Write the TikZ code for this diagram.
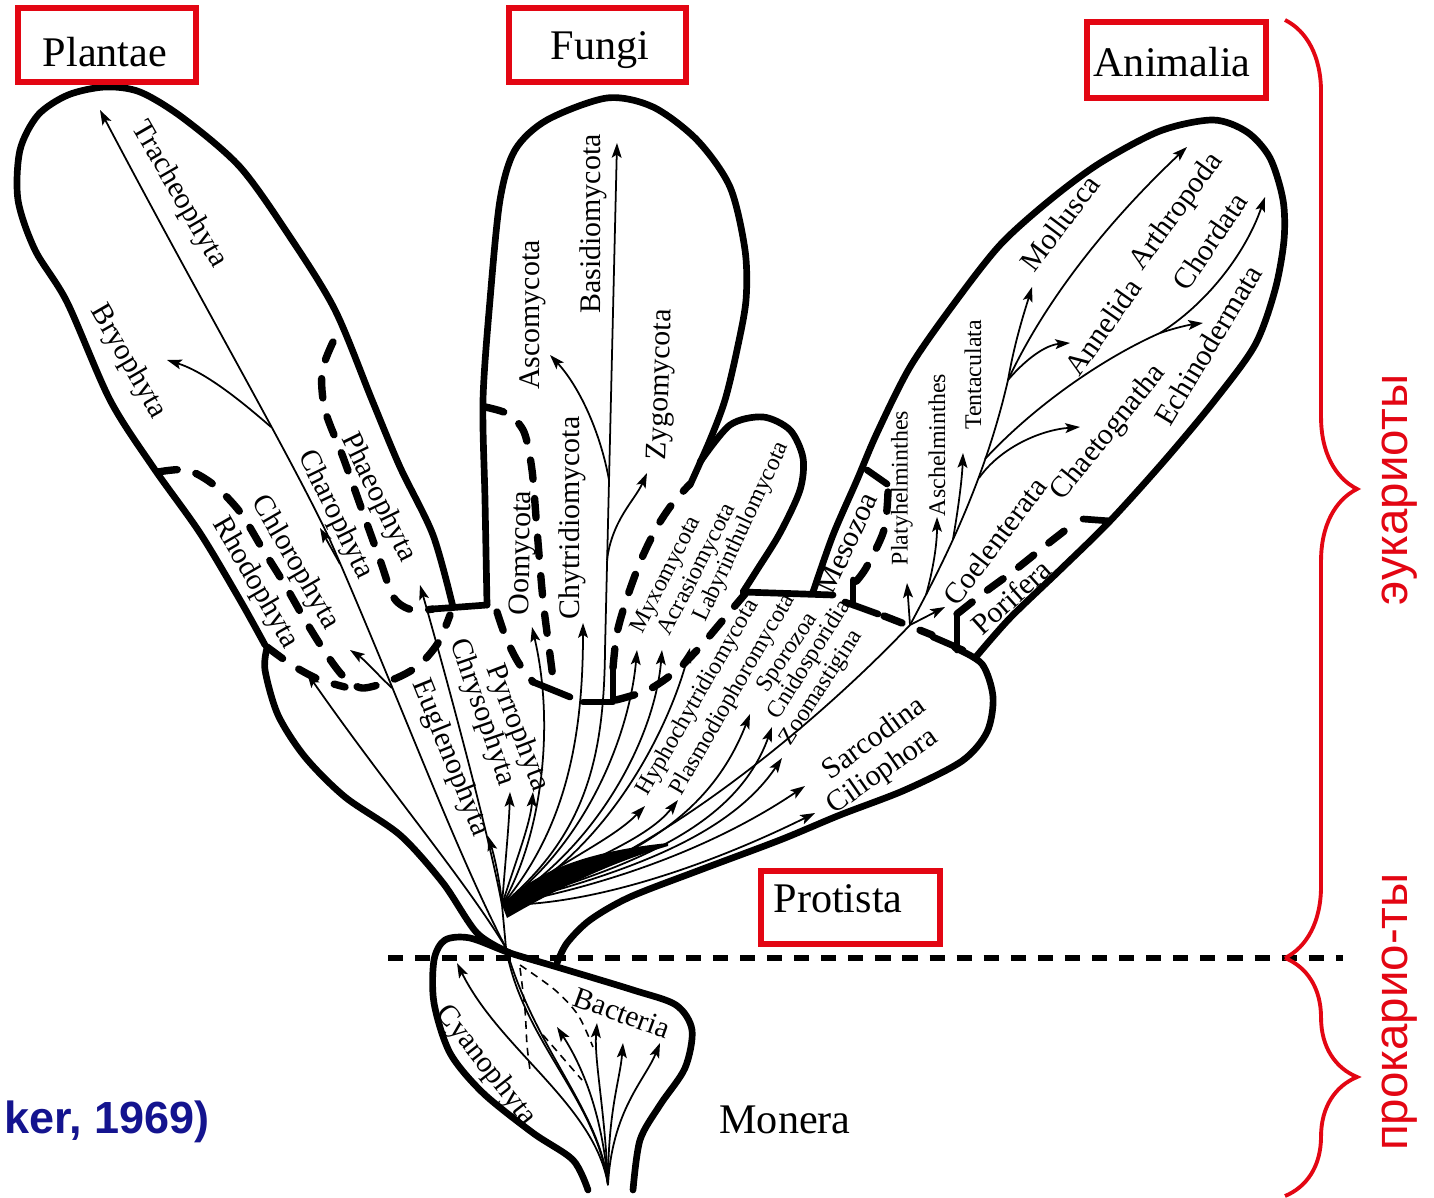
\documentclass[tikz,border=0pt]{standalone}
\usepackage{fontspec}
\setmainfont{Liberation Serif}
\newfontfamily\sansfam{Liberation Sans}
\usetikzlibrary{arrows.meta,decorations.pathreplacing}
\definecolor{kred}{HTML}{E30613}
\definecolor{kblue}{HTML}{14148F}

\begin{document}
\begin{tikzpicture}[x=0.01cm, y=-0.01cm,
    wall/.style={line width=1.9pt, line cap=round, line join=round},
    bnd/.style={line width=2.1pt, line cap=round, dash pattern=on 5.5pt off 5.5pt},
    twig/.style={line width=0.5pt},
    tdash/.style={line width=0.45pt, dash pattern=on 2.2pt off 1.6pt},
    arr/.style={twig, -{Stealth[length=4.2pt, width=2.8pt, inset=0.9pt]}},
    hdash/.style={line width=1.5pt, dash pattern=on 4.3pt off 3.4pt},
    kbox/.style={draw=kred, line width=1.6pt},
    king/.style={font=\fontsize{12}{14}\selectfont, inner sep=0pt},
    lab/.style={font=\fontsize{8.5}{10}\selectfont, inner sep=0pt},
    slab/.style={font=\fontsize{6.8}{8}\selectfont, inner sep=0pt},
    rus/.style={font=\sansfam\fontsize{13.5}{16}\selectfont, text=kred, inner sep=0pt},
    rbrace/.style={draw=kred, line width=1.1pt, decorate, decoration={brace, amplitude=0.72cm}}
  ]
  \useasboundingbox (0,0) rectangle (1434,1198);
  \fill[white] (0,0) rectangle (1434,1198);

  % branch points
  \coordinate (mroot) at (608,1185);
  \coordinate (cross) at (506,948);
  \coordinate (fan) at (502,905);
  \coordinate (an1) at (910,625);
  \coordinate (an2) at (1008,380);
  \coordinate (an3) at (1160,333);

  % outlines
  \draw[wall] plot[smooth] coordinates {(510,953) (477,933) (443,883) (400,835) (345,797) (305,757) (278,715) (265,670) (267,648)};
  \draw[wall] plot[smooth] coordinates {(265,645) (240,600) (200,533) (153,467) (110,400) (67,302) (35,250) (18,200) (20,150) (38,115) (68,95) (105,87) (140,92) (183,118) (240,167) (290,237) (335,310) (372,400) (400,467) (433,535) (453,607)};
  \draw[wall] (433,609) -- (487,605);
  \draw[wall] plot[smooth] coordinates {(487,605) (485,500) (483,400) (490,300) (500,200) (515,150) (547,120) (607,98) (653,107) (697,140) (730,187) (745,250) (746,300) (737,350) (725,400) (710,440) (690,485)};
  \draw[wall] plot[smooth] coordinates {(700,462) (730,425) (763,417) (790,430) (803,458) (800,490) (780,533) (757,570) (743,592)} -- (833,595);
  \draw[wall] plot[smooth] coordinates {(813,592) (833,535) (857,480) (877,433) (910,367) (953,305) (1000,245) (1050,200) (1100,163) (1160,131) (1213,120) (1247,132) (1270,158) (1283,200) (1284,240) (1275,290) (1255,345) (1215,400) (1165,460) (1110,521) (1060,570) (1010,618) (975,658)};
  \draw[wall] plot[smooth] coordinates {(955,648) (982,664) (993,697) (987,732) (962,761) (905,790) (840,815) (780,840) (700,870) (630,897) (590,920) (567,943) (557,963)};
  \draw[wall] plot[smooth] coordinates {(588,1190) (573,1160) (533,1133) (483,1093) (450,1053) (434,1003) (434,960) (445,940) (470,938) (510,953) (557,967) (633,990) (676,1005) (692,1030) (685,1068) (660,1105) (640,1140) (633,1190)};

  % dashed borders
  \draw[bnd] plot[smooth] coordinates {(333,342) (322,372) (325,410) (343,457) (362,510) (380,560) (394,598) (412,610) (433,609)};
  \draw[bnd] plot[smooth] coordinates {(158,472) (187,470) (214,485) (240,512) (262,548) (285,585) (305,620) (325,652) (343,676) (362,688) (392,680) (418,666) (438,643) (450,615)};
  \draw[bnd] plot[smooth] coordinates {(267,647) (292,665) (318,679) (345,687)};
  \draw[bnd] plot[smooth] coordinates {(485,407) (508,414) (524,432) (532,470) (537,530) (543,600) (550,655) (553,678)};
  \draw[bnd] plot[smooth] coordinates {(497,612) (506,638) (518,662) (533,682)};
  \draw[wall] (533,682) -- (570,697);
  \draw[wall] (583,702) -- (613,702) -- (613,668);
  \draw[bnd] plot[smooth] coordinates {(613,668) (617,633) (627,598) (641,560) (657,527) (673,503) (690,484)};
  \draw[bnd] plot[smooth] coordinates {(616,700) (648,690) (676,671) (700,647) (723,620) (745,594)};
  \draw[wall] (867,470) -- (887,484);
  \draw[bnd] plot[smooth] coordinates {(888,492) (884,530) (866,568) (853,585)};
  \draw[wall] (853,580) -- (853,605);
  \draw[wall] (845,602) -- (878,614);
  \draw[bnd] plot[smooth] coordinates {(884,616) (907,625) (932,635)};
  \draw[wall] (933,637) -- (963,650);
  \draw[wall] (957,614) -- (957,650);
  \draw[bnd] plot[smooth] coordinates {(957,614) (985,592) (1015,570) (1045,546) (1072,525)};
  \draw[wall] (1083,519) -- (1110,521);

  % prokaryote / eukaryote line
  \draw[hdash] (388,958) -- (1343,958);

  % Monera
  \draw[twig] (mroot) .. controls (600,1110) and (535,1050) .. (cross);
  \draw[twig] (mroot) .. controls (597,1100) and (522,1040) .. (cross);
  \draw[twig] (cross) -- (fan);
  \draw[arr] (mroot) .. controls (595,1105) and (500,1050) .. (457,963);
  \draw[arr] (mroot) .. controls (603,1120) and (585,1070) .. (557,1027);
  \draw[arr] (mroot) .. controls (605,1110) and (594,1060) .. (597,1023);
  \draw[arr] (mroot) .. controls (608,1110) and (620,1080) .. (623,1043);
  \draw[arr] (mroot) .. controls (612,1110) and (645,1080) .. (660,1043);
  \draw[tdash] plot[smooth] coordinates {(520,965) (555,990) (578,1015) (593,1047)};
  \draw[tdash] plot[smooth] coordinates {(520,968) (525,1010) (527,1045) (530,1070)};
  \draw[tdash] (543,1035) -- (582,1080);

  % Plantae
  \draw[arr] (cross) .. controls (455,850) and (400,700) .. (330,540) .. controls (290,455) and (200,300) .. (100,110);
  \draw[arr] (271,427) .. controls (240,400) and (205,372) .. (167,360);
  \draw[arr] (340,564) -- (320,528);
  \draw[arr] (392,688) .. controls (378,675) and (365,660) .. (350,650);
  \draw[arr] (cross) .. controls (465,880) and (385,785) .. (307,673);
  \draw[arr] (fan) .. controls (490,840) and (450,690) .. (420,585);
  \draw[arr] (fan) .. controls (500,880) and (494,855) .. (488,836);
  \draw[arr] (fan) .. controls (505,865) and (509,825) .. (510,792);
  \draw[arr] (fan) .. controls (516,860) and (530,825) .. (533,792);

  % Fungi
  \draw[arr] (fan) .. controls (540,840) and (556,730) .. (532,627);
  \draw[arr] (fan) .. controls (565,830) and (583,740) .. (583,623);
  \draw[arr] (fan) .. controls (585,835) and (604,760) .. (605,650) -- (617,143);
  \draw[arr] (609,480) .. controls (600,430) and (578,385) .. (550,355);
  \draw[arr] (607,560) .. controls (612,520) and (635,500) .. (647,473);
  \draw[arr] (fan) .. controls (590,840) and (630,730) .. (637,650);
  \draw[arr] (fan) .. controls (600,845) and (655,735) .. (662,650);
  \draw[arr] (fan) .. controls (610,850) and (670,725) .. (690,648);

  % Protista
  \fill (fan) .. controls (540,866) and (600,850) .. (668,843) -- (668,846) .. controls (600,866) and (545,896) .. (507,918) -- cycle;
  \draw[arr] (fan) .. controls (560,862) and (612,840) .. (645,806);
  \draw[arr] (fan) .. controls (575,865) and (645,842) .. (678,800);
  \draw[arr] (fan) .. controls (610,865) and (705,830) .. (750,714);
  \draw[arr] (fan) .. controls (625,868) and (735,830) .. (772,727);
  \draw[arr] (fan) .. controls (630,872) and (730,835) .. (782,758);
  \draw[arr] (fan) .. controls (645,878) and (740,830) .. (805,786);
  \draw[arr] (fan) .. controls (600,905) and (720,860) .. (815,813);

  % Animalia
  \draw[twig] (fan) .. controls (650,865) and (820,720) .. (an1);
  \draw[arr] (an1) -- (907,583);
  \draw[arr] (an1) -- (945,607);
  \draw[twig] (an1) .. controls (945,560) and (985,480) .. (an2);
  \draw[arr] (926,595) .. controls (933,570) and (937,545) .. (937,517);
  \draw[arr] (953,539) .. controls (958,510) and (962,480) .. (963,453);
  \draw[arr] (979,478) .. controls (1000,448) and (1040,430) .. (1080,427);
  \draw[twig] (985,459) .. controls (1040,400) and (1110,355) .. (an3);
  \draw[arr] (an3) .. controls (1175,328) and (1188,325) .. (1203,323);
  \draw[arr] (an3) .. controls (1205,305) and (1245,255) .. (1265,197);
  \draw[arr] (an2) .. controls (1015,340) and (1025,310) .. (1032,287);
  \draw[arr] (an2) .. controls (1025,360) and (1045,345) .. (1070,343);
  \draw[arr] (an2) .. controls (1050,290) and (1120,210) .. (1187,147);

  % phylum labels
  \node[lab, rotate=-60] (trach) at (179,195) {Tracheophyta};
  \node[lab, rotate=-60] (bryo) at (128,362) {Bryophyta};
  \node[lab, rotate=-64] (phaeo) at (378,498) {Phaeophyta};
  \node[lab, rotate=-64] (charo) at (335,515) {Charophyta};
  \node[lab, rotate=-60] (chloro) at (295,563) {Chlorophyta};
  \node[lab, rotate=-60] (rhodo) at (255,583) {Rhodophyta};
  \node[lab, rotate=-68] (eugl) at (450,758) {Euglenophyta};
  \node[lab, rotate=-71] (chryso) at (482,712) {Chrysophyta};
  \node[lab, rotate=-69] (pyrro) at (517,728) {Pyrrophyta};
  \node[lab, rotate=89] (oomy) at (523,553) {Oomycota};
  \node[lab, rotate=90] (chytr) at (572,518) {Chytridiomycota};
  \node[lab, rotate=90] (basid) at (593,224) {Basidiomycota};
  \node[lab, rotate=90] (ascom) at (533,315) {Ascomycota};
  \node[lab, rotate=88] (zygo) at (662,385) {Zygomycota};
  \node[slab, rotate=63] (myxo) at (667,575) {Myxomycota};
  \node[slab, rotate=63] (acras) at (698,570) {Acrasiomycota};
  \node[slab, rotate=65] (labyr) at (742,532) {Labyrinthulomycota};
  \node[slab, rotate=60] (hypho) at (698,698) {Hyphochytridiomycota};
  \node[slab, rotate=60] (plasmo) at (733,695) {Plasmodiophoromycota};
  \node[slab, rotate=56] (sporo) at (788,653) {Sporozoa};
  \node[slab, rotate=58] (cnido) at (810,660) {Cnidosporidia};
  \node[slab, rotate=57] (zoomast) at (822,688) {Zoomastigina};
  \node[lab, rotate=36] (sarco) at (873,737) {Sarcodina};
  \node[lab, rotate=35] (cilio) at (883,772) {Ciliophora};
  \node[lab, rotate=65] (meso) at (847,543) {Mesozoa};
  \node[slab, rotate=90] (platy) at (902,488) {Platyhelminthes};
  \node[slab, rotate=90] (aschel) at (937,445) {Aschelminthes};
  \node[slab, rotate=90] (tenta) at (973,375) {Tentaculata};
  \node[lab, rotate=53] (coelen) at (995,541) {Coelenterata};
  \node[lab, rotate=42] (porif) at (1011,597) {Porifera};
  \node[lab, rotate=51] (chaeto) at (1109,433) {Chaetognatha};
  \node[lab, rotate=55] (annel) at (1103,327) {Annelida};
  \node[lab, rotate=54] (arthro) at (1177,212) {Arthropoda};
  \node[lab, rotate=53] (mollu) at (1060,223) {Mollusca};
  \node[lab, rotate=56] (chorda) at (1210,241) {Chordata};
  \node[lab, rotate=59] (echino) at (1208,345) {Echinodermata};
  \node[lab, rotate=-52] (cyano) at (486,1066) {Cyanophyta};
  \node[lab, rotate=-20] (bact) at (622,1013) {Bacteria};

  % kingdoms
  \draw[kbox] (18,8) rectangle (196,82);
  \node[king, anchor=base] (plantae) at (105,67) {Plantae};
  \draw[kbox] (509,8) rectangle (686,82);
  \node[king, anchor=base] (fungi) at (600,60) {Fungi};
  \draw[kbox] (1087,22) rectangle (1266,98);
  \node[king, anchor=base] (animalia) at (1172,77) {Animalia};
  \draw[kbox] (761,871) rectangle (940,944);
  \node[king, anchor=base] (protista) at (838,912) {Protista};
  \node[king, anchor=base] (monera) at (785,1133) {Monera};

  % domains
  \draw[rbrace] (1285,20) -- (1285,958);
  \draw[rbrace] (1285,958) -- (1285,1196);
  \node[rus, rotate=90] (euk) at (1400,490) {эукариоты};
  \node[rus, rotate=90] (prok) at (1400,1012) {прокарио-ты};
  \node[font=\sansfam\bfseries\fontsize{12.8}{15}\selectfont, text=kblue, inner sep=0pt, anchor=base east] (source) at (210,1133) {ker, 1969)};
\end{tikzpicture}
\end{document}
